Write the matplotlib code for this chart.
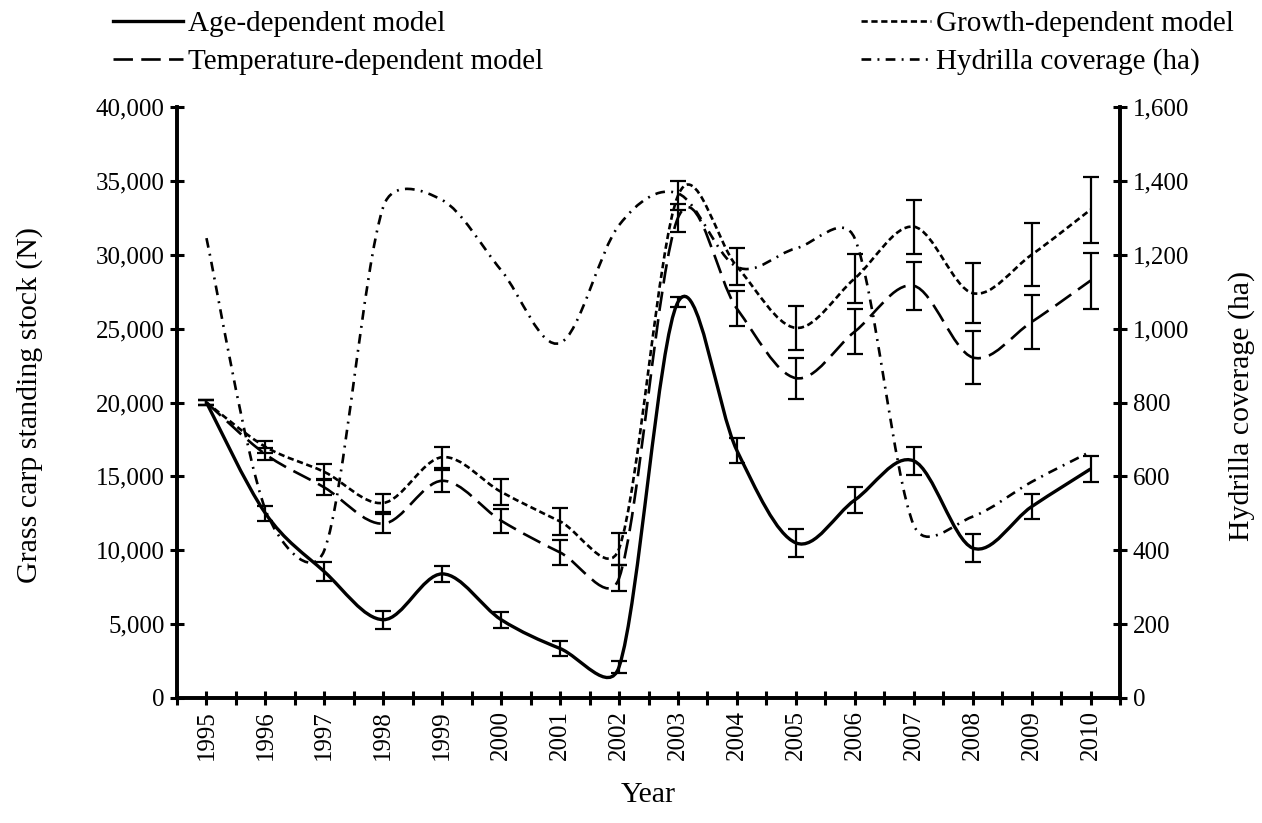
import numpy as np
import matplotlib
matplotlib.use("Agg")
import matplotlib.pyplot as plt
from matplotlib.path import Path
from matplotlib.patches import PathPatch
from matplotlib.lines import Line2D
from matplotlib.ticker import FuncFormatter, MultipleLocator

plt.rcParams['font.family'] = ['Liberation Serif', 'DejaVu Serif']
plt.rcParams['lines.scale_dashes'] = False

years = list(range(1995, 2011))

age_n = [20000, 12500, 8550, 5300, 8400, 5300, 3350, 2100, 26800, 16750,
         10500, 13400, 16050, 10150, 12950, 15500]
age_err = [150, 500, 640, 620, 540, 540, 500, 400, 350, 850,
           950, 850, 930, 950, 850, 870]

growth_n = [20000, 17000, 15300, 13200, 16300, 13950, 11950, 10100, 34000, 29200,
            25050, 28400, 31900, 27400, 30000, 33050]
growth_err = [150, 400, 540, 590, 710, 870, 920, 1090, 1000, 1280,
              1510, 1670, 1830, 2030, 2120, 2230]

temp_n = [20000, 16500, 14250, 11800, 14700, 12000, 9850, 8100, 32500, 26350,
          21650, 24800, 27900, 23050, 25450, 28250]
temp_err = [150, 400, 540, 640, 730, 820, 870, 870, 950, 1180,
            1390, 1510, 1620, 1770, 1840, 1890]

hydrilla_ha = [1245, 510, 400, 1330, 1348, 1158, 961, 1280, 1366, 1167,
               1217, 1244, 468, 491, 585, 667]

labels = ['Age-dependent model', 'Temperature-dependent model',
          'Growth-dependent model', 'Hydrilla coverage (ha)']


def smooth_path(x, y, sx, sy):
    # excel-like smoothed line: cubic bezier segments, control points from
    # neighbouring points, worked out in screen units
    P = np.column_stack([np.asarray(x, float) * sx, np.asarray(y, float) * sy])
    n = len(P)
    verts = [P[0]]
    codes = [Path.MOVETO]
    for i in range(n - 1):
        p0 = P[i - 1] if i > 0 else P[i]
        p1, p2 = P[i], P[i + 1]
        p3 = P[i + 2] if i + 2 < n else P[i + 1]
        half = np.hypot(*(p2 - p1)) / 2.0
        t1 = (p2 - p0) / 6.0
        t2 = (p3 - p1) / 6.0
        l1, l2 = np.hypot(*t1), np.hypot(*t2)
        if l1 > half:
            t1 = t1 * half / l1
        if l2 > half:
            t2 = t2 * half / l2
        verts += [p1 + t1, p2 - t2, p2]
        codes += [Path.CURVE4] * 3
    verts = np.array(verts) / [sx, sy]
    return Path(verts, codes)


fig = plt.figure(figsize=(12.62, 8.23), dpi=100)
ax = fig.add_axes([177 / 1262, 1 - 698 / 823, 943 / 1262, 591 / 823])
ax2 = ax.twinx()

ax.set_xlim(1994.5, 2010.5)
ax.set_ylim(0, 40000)
ax2.set_ylim(0, 1600)

# screen scale (px per data unit)
sx = 943 / 16.0
sy1 = 591 / 40000.0
sy2 = 591 / 1600.0

styles = {
    'age': dict(lw=2.4, ls='-'),
    'growth': dict(lw=1.9, ls=(0, (4.5, 2.6))),
    'temp': dict(lw=1.9, ls=(0, (14, 6))),
    'hyd': dict(lw=1.9, ls=(0, (7, 4.5, 1.4, 4.5))),
}

for vals, key in [(age_n, 'age'), (growth_n, 'growth'), (temp_n, 'temp')]:
    ax.add_patch(PathPatch(smooth_path(years, vals, sx, sy1), fill=False,
                           edgecolor='black', linewidth=styles[key]['lw'],
                           linestyle=styles[key]['ls'], capstyle='butt'))
ax2.add_patch(PathPatch(smooth_path(years, hydrilla_ha, sx, sy2), fill=False,
                        edgecolor='black', linewidth=styles['hyd']['lw'],
                        linestyle=styles['hyd']['ls'], capstyle='butt'))

for vals, err in [(age_n, age_err), (growth_n, growth_err), (temp_n, temp_err)]:
    ax.errorbar(years, vals, yerr=err, fmt='none', ecolor='black',
                elinewidth=1.6, capsize=5.5, capthick=1.6)

# axes look
for a in (ax, ax2):
    a.spines['top'].set_visible(False)
    for s in ('left', 'right', 'bottom'):
        a.spines[s].set_linewidth(2.6)

ax.set_xticks(years)
ax.set_xticklabels([str(y) for y in years], rotation=90)
ax.set_xticks(np.arange(1994.5, 2011, 1.0), minor=True)
ax.tick_params(axis='x', which='both', direction='inout', length=10, width=2.2,
               labelsize=18, pad=4)
ax.yaxis.set_major_locator(MultipleLocator(5000))
ax.yaxis.set_major_formatter(FuncFormatter(lambda v, p: f'{v:,.0f}'))
ax.tick_params(axis='y', direction='inout', length=10, width=2.2, labelsize=18, pad=4)

ax2.yaxis.set_major_locator(MultipleLocator(200))
ax2.yaxis.set_major_formatter(FuncFormatter(lambda v, p: f'{v:,.0f}'))
ax2.tick_params(axis='y', direction='inout', length=10, width=2.2, labelsize=18, pad=4)

ax.set_ylabel('Grass carp standing stock (N)', fontsize=21.5, va='center')
ax.yaxis.set_label_coords((30 - 177) / 943, 0.495)
ax2.set_ylabel('Hydrilla coverage (ha)', fontsize=21.5, rotation=90, va='center')
ax2.yaxis.set_label_coords((1242 - 177) / 943, 0.495)
ax.set_xlabel('Year', fontsize=21.5, va='center')
ax.xaxis.set_label_coords(0.5, -(795 - 698) / 591)

handles = [
    Line2D([], [], color='black', lw=styles['age']['lw'], ls=styles['age']['ls']),
    Line2D([], [], color='black', lw=styles['temp']['lw'], ls=styles['temp']['ls']),
    Line2D([], [], color='black', lw=styles['growth']['lw'], ls=styles['growth']['ls']),
    Line2D([], [], color='black', lw=styles['hyd']['lw'], ls=styles['hyd']['ls']),
]
fig.legend(handles, labels, ncol=2, loc='upper left',
           bbox_to_anchor=(113 / 1262, 1 - 11 / 823), frameon=False,
           fontsize=21, handlelength=2.4, handletextpad=0.17,
           columnspacing=10.9, labelspacing=0.38, borderpad=0, borderaxespad=0)

fig.savefig('out.png', dpi=100)
